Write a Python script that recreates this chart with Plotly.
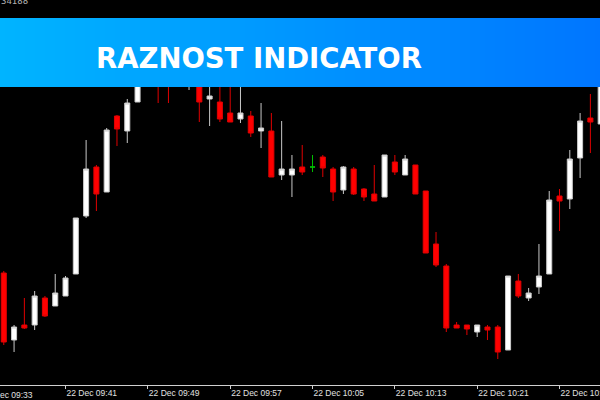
import plotly.graph_objects as go

# minute timestamps (22 Dec, 09:35 .. 10:33)
times = ["2020-12-22 09:%02d" % m for m in range(35, 60)] + ["2020-12-22 10:%02d" % m for m in range(0, 34)]

opens = [1.34117, 1.34050, 1.34065, 1.34065, 1.34092, 1.34084, 1.34094, 1.34116, 1.34174, 1.34223,
         1.34198, 1.34274, 1.34259, 1.34288, 1.34330, 1.34330, 1.34325, 1.34310, 1.34310, 1.34325,
         1.34291, 1.34288, 1.34277, 1.34271, 1.34274, 1.34259, 1.34259, 1.34215, 1.34215, 1.34223,
         1.34223, 1.34233, 1.34221, 1.34200, 1.34221, 1.34201, 1.34196, 1.34193, 1.34228, 1.34215,
         1.34225, 1.34199, 1.34146, 1.34124, 1.34065, 1.34065, 1.34058, 1.34063, 1.34063, 1.34040,
         1.34109, 1.34092, 1.34103, 1.34116, 1.34194, 1.34191, 1.34232, 1.34272, 1.34266]
highs = [1.34119, 1.34065, 1.34092, 1.34099, 1.34094, 1.34116, 1.34114, 1.34172, 1.34250, 1.34225,
         1.34262, 1.34275, 1.34291, 1.34330, 1.34340, 1.34335, 1.34330, 1.34335, 1.34330, 1.34330,
         1.34310, 1.34310, 1.34310, 1.34310, 1.34279, 1.34287, 1.34277, 1.34269, 1.34235, 1.34245,
         1.34235, 1.34235, 1.34223, 1.34224, 1.34223, 1.34202, 1.34225, 1.34235, 1.34235, 1.34235,
         1.34225, 1.34199, 1.34158, 1.34126, 1.34068, 1.34065, 1.34065, 1.34065, 1.34065, 1.34114,
         1.34116, 1.34102, 1.34146, 1.34199, 1.34201, 1.34240, 1.34277, 1.34296, 1.34320]
lows = [1.34045, 1.34038, 1.34061, 1.34060, 1.34073, 1.34084, 1.34094, 1.34116, 1.34172, 1.34179,
        1.34198, 1.34244, 1.34247, 1.34288, 1.34305, 1.34287, 1.34287, 1.34305, 1.34300, 1.34268,
        1.34264, 1.34268, 1.34268, 1.34267, 1.34253, 1.34242, 1.34213, 1.34210, 1.34193, 1.34215,
        1.34218, 1.34213, 1.34189, 1.34196, 1.34195, 1.34189, 1.34189, 1.34193, 1.34215, 1.34215,
        1.34196, 1.34137, 1.34123, 1.34058, 1.34062, 1.34055, 1.34053, 1.34050, 1.34031, 1.34040,
        1.34092, 1.34089, 1.34096, 1.34116, 1.34159, 1.34181, 1.34212, 1.34237, 1.34266]
closes = [1.34048, 1.34063, 1.34062, 1.34094, 1.34074, 1.34097, 1.34112, 1.34172, 1.34221, 1.34196,
          1.34260, 1.34261, 1.34287, 1.34320, 1.34315, 1.34310, 1.34310, 1.34325, 1.34320, 1.34288,
          1.34294, 1.34271, 1.34268, 1.34277, 1.34257, 1.34262, 1.34213, 1.34221, 1.34221, 1.34218,
          1.34223, 1.34222, 1.34198, 1.34223, 1.34196, 1.34193, 1.34189, 1.34235, 1.34218, 1.34231,
          1.34196, 1.34137, 1.34125, 1.34062, 1.34062, 1.34061, 1.34065, 1.34060, 1.34038, 1.34114,
          1.34094, 1.34097, 1.34114, 1.34190, 1.34189, 1.34231, 1.34269, 1.34268, 1.34310]

tick_labels_first = "22 Dec 09:33"
title_text = "RAZNOST INDICATOR"
corner_text = "34188"

main = [i for i in range(len(times)) if opens[i] != closes[i]]
doji = [i for i in range(len(times)) if opens[i] == closes[i]]

fig = go.Figure()
fig.add_trace(go.Candlestick(
    x=[times[i] for i in main], open=[opens[i] for i in main], high=[highs[i] for i in main],
    low=[lows[i] for i in main], close=[closes[i] for i in main],
    increasing=dict(fillcolor="#ffffff", line=dict(color="#c8c8c8", width=1)),
    decreasing=dict(fillcolor="#ff0000", line=dict(color="#e00000", width=1)),
    whiskerwidth=0, showlegend=False, hoverinfo="skip"))
fig.add_trace(go.Candlestick(
    x=[times[i] for i in doji], open=[opens[i] for i in doji], high=[highs[i] for i in doji],
    low=[lows[i] for i in doji], close=[closes[i] for i in doji],
    increasing=dict(fillcolor="#00c000", line=dict(color="#00c000", width=1)),
    decreasing=dict(fillcolor="#00c000", line=dict(color="#00c000", width=1)),
    whiskerwidth=0, showlegend=False, hoverinfo="skip"))

# gradient banner
shapes = []
n = 120
c0 = (0, 180, 255)
c1 = (0, 118, 255)
y0b = 1 - 87 / 385
y1b = 1 - 18 / 385
for i in range(n):
    t = i / (n - 1)
    col = "rgb(%d,%d,%d)" % tuple(round(c0[k] + (c1[k] - c0[k]) * t) for k in range(3))
    shapes.append(dict(type="rect", xref="paper", yref="paper", x0=i / n, x1=min(1.0, (i + 1) / n + 0.002),
                       y0=y0b, y1=y1b, fillcolor=col, line=dict(width=0), layer="above"))

fig.update_layout(
    width=600, height=400, autosize=False,
    margin=dict(l=0, r=0, t=0, b=15, autoexpand=False),
    paper_bgcolor="#000000", plot_bgcolor="#000000",
    shapes=shapes,
    showlegend=False,
    xaxis=dict(
        type="date", rangeslider=dict(visible=False), automargin=False,
        range=["2020-12-22 09:34:38", "2020-12-22 10:32:56"],
        tick0="2020-12-22 09:33", dtick=480000, tickformat="%d %b %H:%M",
        ticks="outside", ticklen=3, tickcolor="#d0d0d0",
        ticklabelposition="outside right", ticklabeloverflow="allow",
        tickfont=dict(family="Liberation Sans", size=8.5, color="#e0e0e0"),
        showline=True, linecolor="#d0d0d0", linewidth=1,
        showgrid=False, zeroline=False, fixedrange=True),
    yaxis=dict(range=[1.34005, 1.34390], showticklabels=False, showgrid=False, automargin=False,
               zeroline=False, showline=False, ticks="", fixedrange=True),
    annotations=[
        dict(text=title_text, xref="paper", yref="paper", x=259 / 600, y=1 - 58 / 385,
             showarrow=False, xanchor="center", yanchor="middle",
             font=dict(family="DejaVu Sans", size=27.5, color="#ffffff", weight=700)),
        dict(text=corner_text, xref="paper", yref="paper", x=-0.002, y=1 - 1 / 385,
             showarrow=False, xanchor="left", yanchor="middle",
             font=dict(family="DejaVu Sans Mono", size=9, color="#b0b0b0")),
        dict(text=tick_labels_first, xref="paper", yref="paper", x=-20 / 600, y=-3 / 385,
             showarrow=False, xanchor="left", yanchor="top",
             font=dict(family="Liberation Sans", size=8.5, color="#e0e0e0")),
    ],
)

fig.write_html("out.html", config={"displayModeBar": False},
               post_script="document.body.style.margin='0';document.body.style.padding='0';"
                           "document.documentElement.style.overflow='hidden';")
